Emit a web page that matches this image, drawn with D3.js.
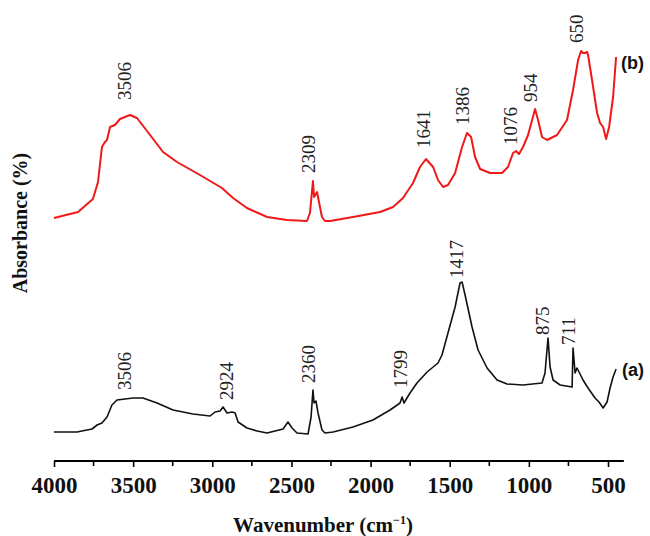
<!DOCTYPE html>
<html>
<head>
<meta charset="utf-8">
<script src="https://cdn.jsdelivr.net/npm/d3@7"></script>
<style>
  body { margin: 0; background: #fff; }
  svg { display: block; }
</style>
</head>
<body>
<svg width="650" height="536"></svg>
<script>
// spectrum (b) - red
const wavenumberB = [4000, 3848, 3754, 3722, 3697, 3678, 3665, 3646, 3615, 3583, 3520, 3476, 3393, 3311, 3223, 3078,
  2939, 2869, 2781, 2654, 2528, 2402, 2383, 2364, 2357, 2338, 2326, 2307, 2288, 2256, 2111, 1940, 1858, 1795, 1732,
  1688, 1650, 1605, 1574, 1542, 1511, 1466, 1422, 1391, 1365, 1340, 1308, 1245, 1170, 1132, 1100, 1081, 1062, 1037,
  1005, 961, 942, 917, 885, 822, 759, 721, 689, 670, 658, 645, 632, 626, 601, 569, 550, 531, 512, 493, 468, 449];
const absorbanceB = [243, 249, 262, 279, 314, 319, 321, 334, 336, 342, 346, 343, 326, 309, 299, 286,
  273, 263, 253, 244, 241, 240, 248, 280, 264, 269, 259, 244, 240, 240, 244, 249, 254, 263, 278,
  294, 302, 294, 281, 274, 276, 288, 314, 328, 324, 304, 292, 288, 288, 294, 308, 310, 307, 314,
  326, 352, 341, 324, 321, 326, 341, 371, 401, 410, 408, 408, 409, 406, 381, 348, 338, 334, 322, 334, 364, 404];

// spectrum (a) - black
const wavenumberA = [4000, 3855, 3760, 3728, 3697, 3665, 3634, 3602, 3501, 3438, 3349, 3248, 3122, 3014, 2983, 2951,
  2932, 2907, 2875, 2856, 2837, 2781, 2717, 2654, 2604, 2553, 2522, 2496, 2465, 2395, 2376, 2364, 2357, 2345, 2332,
  2307, 2288, 2237, 2111, 1985, 1877, 1814, 1801, 1789, 1751, 1707, 1643, 1574, 1549, 1511, 1466, 1435, 1422, 1403,
  1359, 1321, 1264, 1201, 1138, 1037, 917, 898, 879, 866, 847, 803, 727, 721, 708, 696, 683, 658, 626, 582, 557,
  531, 506, 487, 468, 449];
const absorbanceA = [29, 29, 32, 36, 38, 44, 56, 61, 63, 63, 58, 51, 47, 45, 49, 50,
  54, 48, 49, 48, 39, 33, 30, 28, 30, 32, 39, 33, 28, 27, 44, 71, 58, 60, 48,
  31, 28, 29, 34, 41, 51, 58, 64, 58, 68, 78, 89, 98, 106, 128, 154, 178, 179, 166,
  134, 111, 93, 81, 77, 76, 78, 88, 123, 94, 81, 76, 74, 113, 88, 93, 89, 81, 73, 63, 59,
  53, 59, 73, 84, 92];

// peak annotations
const peakTextB = ['3506', '2309', '1641', '1386', '1076', '954', '650'];
const peakPosB = [3514, 2351, 1624, 1378, 1075, 948, 658];
const peakLevelB = [361, 288, 313, 336, 316, 359, 418];
const peakTextA = ['3506', '2924', '2360', '1799', '1417', '875', '711'];
const peakPosA = [3514, 2869, 2351, 1770, 1416, 873, 708];
const peakLevelA = [71, 61, 78, 73, 183, 126, 116];

const xTicks = [4000, 3500, 3000, 2500, 2000, 1500, 1000, 500];
const xMinorTicks = [3750, 3250, 2750, 2250, 1750, 1250, 750];

const svg = d3.select('svg');
const margin = { top: 0, left: 54, bottom: 75 };
const axisY = 461;

const xScale = d3.scaleLinear()
  .domain([4000, 400])
  .range([margin.left, margin.left + 3600 * 0.15829]);

const yScale = d3.scaleLinear()
  .domain([0, 461])
  .range([axisY, 0]);

const toPoints = (ws, vs) => ws.map((w, i) => [w, vs[i]]);
const line = d3.line()
  .x(d => xScale(d[0]))
  .y(d => yScale(d[1]));

svg.append('path')
  .datum(toPoints(wavenumberA, absorbanceA))
  .attr('d', line)
  .attr('fill', 'none')
  .attr('stroke', '#111')
  .attr('stroke-width', 1.6)
  .attr('stroke-linejoin', 'round');

svg.append('path')
  .datum(toPoints(wavenumberB, absorbanceB))
  .attr('d', line)
  .attr('fill', 'none')
  .attr('stroke', '#f01818')
  .attr('stroke-width', 2)
  .attr('stroke-linejoin', 'round');

// peak labels, rotated
const addPeaks = (texts, pos, lev) => {
  svg.append('g').selectAll('text')
    .data(texts)
    .enter().append('text')
    .attr('transform', (d, i) => `translate(${xScale(pos[i])},${yScale(lev[i])}) rotate(-90)`)
    .attr('font-family', '"Liberation Serif", "Times New Roman", serif')
    .attr('font-size', 19)
    .attr('fill', '#222')
    .text(d => d);
};
addPeaks(peakTextB, peakPosB, peakLevelB);
addPeaks(peakTextA, peakPosA, peakLevelA);

// bottom axis
const xAxis = d3.axisBottom(xScale)
  .tickValues(xTicks)
  .tickSize(6)
  .tickPadding(10)
  .tickFormat(d3.format('d'));

const gx = svg.append('g')
  .attr('transform', `translate(0,${axisY})`)
  .call(xAxis);
gx.select('.domain')
  .attr('d', `M${xScale(4000)},0H${xScale(400)}`)
  .attr('stroke-width', 2);
gx.selectAll('.tick line').attr('stroke-width', 1.6);
gx.selectAll('.tick text')
  .attr('font-family', '"Liberation Serif", "Times New Roman", serif')
  .attr('font-weight', 'bold')
  .attr('font-size', 23)
  .attr('fill', '#111');

gx.selectAll('.minor')
  .data(xMinorTicks)
  .enter().append('line')
  .attr('class', 'minor')
  .attr('x1', d => xScale(d))
  .attr('x2', d => xScale(d))
  .attr('y1', 0)
  .attr('y2', 5)
  .attr('stroke', '#000')
  .attr('stroke-width', 1.6);

// axis titles
const title = svg.append('text')
  .attr('x', 323)
  .attr('y', 532)
  .attr('text-anchor', 'middle')
  .attr('font-family', '"Liberation Serif", "Times New Roman", serif')
  .attr('font-weight', 'bold')
  .attr('font-size', 21)
  .attr('fill', '#111');
title.append('tspan').text('Wavenumber (cm');
title.append('tspan').text('\u2212').attr('font-size', 12).attr('dy', -8);
title.append('tspan').text('1').attr('font-size', 12);
title.append('tspan').text(')').attr('dy', 8);

svg.append('text')
  .attr('transform', 'translate(27,223) rotate(-90)')
  .attr('text-anchor', 'middle')
  .attr('font-family', '"Liberation Serif", "Times New Roman", serif')
  .attr('font-weight', 'bold')
  .attr('font-size', 20)
  .attr('fill', '#111')
  .text('Absorbance (%)');

// series tags
svg.append('text')
  .attr('x', 621)
  .attr('y', 69)
  .attr('font-family', '"Liberation Sans", Arial, sans-serif')
  .attr('font-weight', 'bold')
  .attr('font-size', 18)
  .attr('fill', '#111')
  .text('(b)');

svg.append('text')
  .attr('x', 622)
  .attr('y', 376)
  .attr('font-family', '"Liberation Sans", Arial, sans-serif')
  .attr('font-weight', 'bold')
  .attr('font-size', 18)
  .attr('fill', '#111')
  .text('(a)');
</script>
</body>
</html>
